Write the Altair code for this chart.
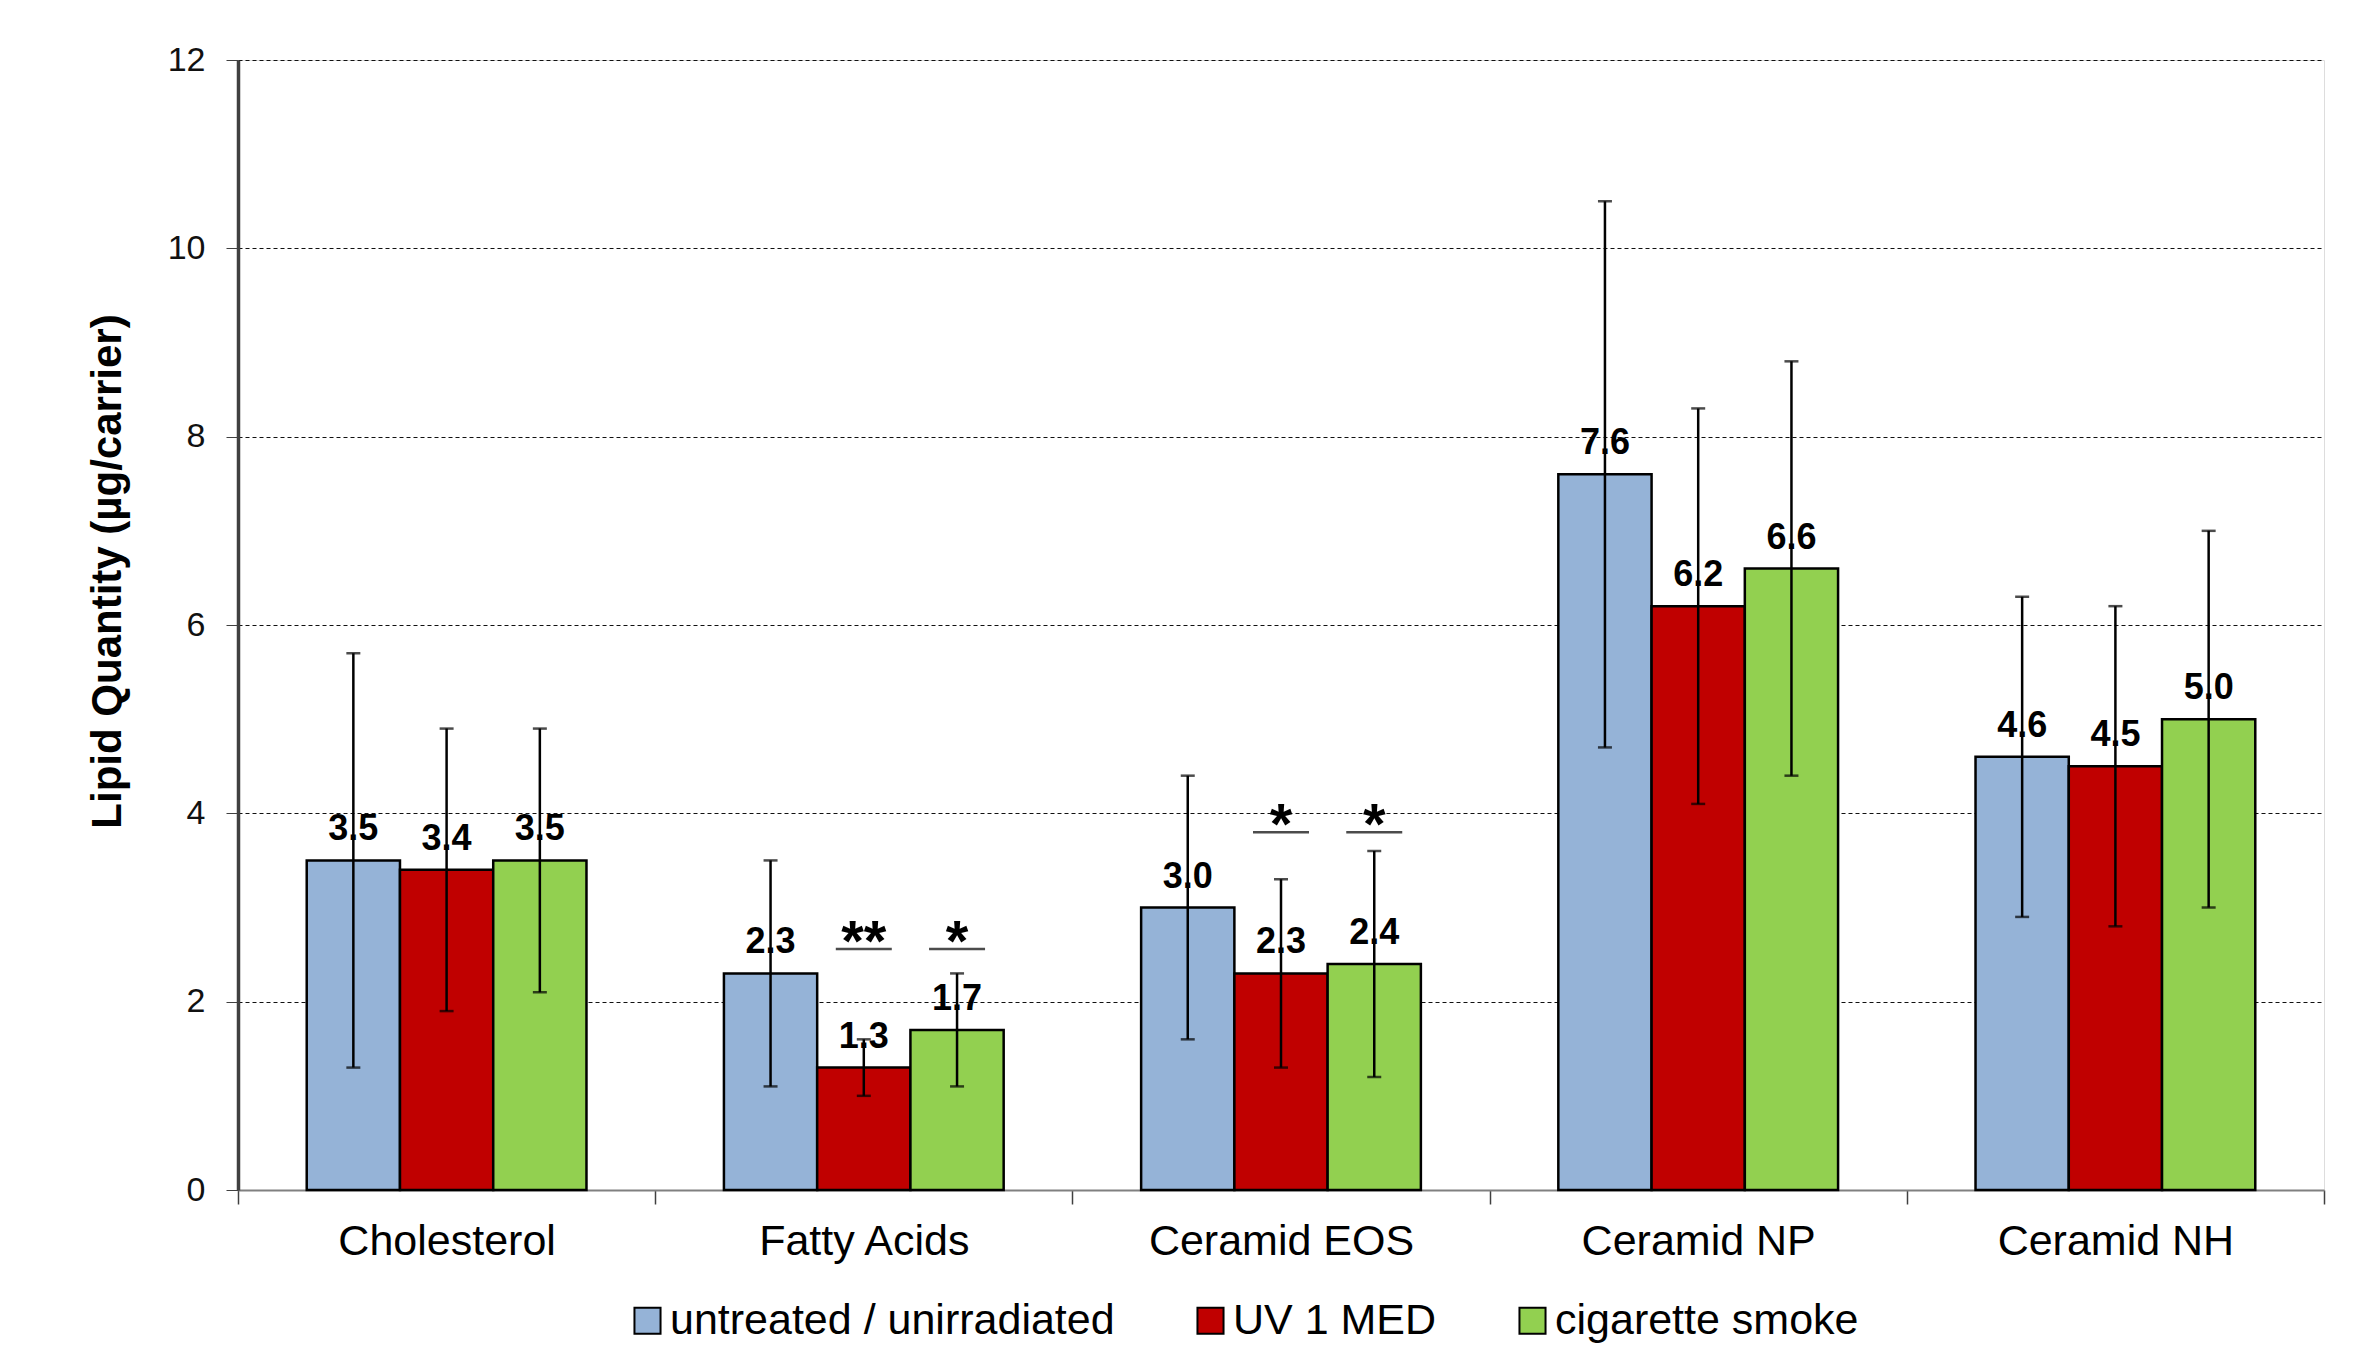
import altair as alt
import pandas as pd

categories = ["Cholesterol", "Fatty Acids", "Ceramid EOS", "Ceramid NP", "Ceramid NH"]
groups = ["untreated / unirradiated", "UV 1 MED", "cigarette smoke"]
colors = ["#95B3D7", "#C00000", "#92D050"]

untreated = [3.5, 2.3, 3.0, 7.6, 4.6]
untreated_lo = [1.3, 1.1, 1.6, 4.7, 2.9]
untreated_hi = [5.7, 3.5, 4.4, 10.5, 6.3]

uv = [3.4, 1.3, 2.3, 6.2, 4.5]
uv_lo = [1.9, 1.0, 1.3, 4.1, 2.8]
uv_hi = [4.9, 1.6, 3.3, 8.3, 6.2]

smoke = [3.5, 1.7, 2.4, 6.6, 5.0]
smoke_lo = [2.1, 1.1, 1.2, 4.4, 3.0]
smoke_hi = [4.9, 2.3, 3.6, 8.8, 7.0]

sig_category = ["Fatty Acids", "Fatty Acids", "Ceramid EOS", "Ceramid EOS"]
sig_group = ["UV 1 MED", "cigarette smoke", "UV 1 MED", "cigarette smoke"]
sig_level = [2.56, 2.56, 3.80, 3.80]
sig_mark = ["**", "*", "*", "*"]

rows = []
for g, vals, lo, hi in [
    (groups[0], untreated, untreated_lo, untreated_hi),
    (groups[1], uv, uv_lo, uv_hi),
    (groups[2], smoke, smoke_lo, smoke_hi),
]:
    for c, v, l, h in zip(categories, vals, lo, hi):
        rows.append({"category": c, "group": g, "value": v, "lo": l, "hi": h})
df = pd.DataFrame(rows)
sig_df = pd.DataFrame({"category": sig_category, "group": sig_group,
                       "level": sig_level, "mark": sig_mark})

FONT = "Liberation Sans"

x_enc = alt.X("category:N", sort=categories,
              scale=alt.Scale(domain=categories, paddingInner=0, paddingOuter=0),
              axis=alt.Axis(title=None, labelAngle=0, labelFontSize=43, labelFont=FONT,
                            labelColor="black", labelPadding=16, labelLimit=0,
                            tickBand="extent",
                            tickSize=14, tickColor="#404040", tickWidth=1.5,
                            domainColor="#808080", domainWidth=2, grid=False))
xo_enc = alt.XOffset("group:N", sort=groups,
                     scale=alt.Scale(domain=groups, paddingInner=0, paddingOuter=0.737))
y_scale = alt.Scale(domain=[0, 12], nice=False)

bars = alt.Chart(df).mark_bar(stroke="black", strokeWidth=2.5).encode(
    x=x_enc,
    xOffset=xo_enc,
    y=alt.Y("value:Q", scale=y_scale,
            axis=alt.Axis(values=[0, 2, 4, 6, 8, 10, 12], format="d",
                          title="Lipid Quantity (µg/carrier)",
                          titleFontSize=42, titleFont=FONT, titleFontWeight="bold",
                          titleColor="black", titleX=-131, titleY=511,
                          titleBaseline="middle", titleAlign="center", titleAngle=-90,
                          labelFontSize=34, labelFont=FONT, labelColor="#111",
                          labelPadding=21, tickSize=12, tickColor="#404040",
                          domainColor="#404040", domainWidth=3.5,
                          grid=True, gridColor="#111", gridDash=[4, 3], gridWidth=1)),
    color=alt.Color("group:N", sort=groups,
                    scale=alt.Scale(domain=groups, range=colors),
                    legend=alt.Legend(title=None, orient="none", legendX=388, legendY=1239,
                                      direction="horizontal", labelFontSize=43, labelFont=FONT,
                                      labelColor="black", labelLimit=0, symbolType="square",
                                      symbolSize=680, symbolStrokeColor="black",
                                      symbolStrokeWidth=2, symbolOpacity=1,
                                      columnPadding=74, labelOffset=1)),
)

err = alt.Chart(df).mark_rule(color="black", strokeWidth=2.5).encode(
    x=alt.X("category:N", sort=categories), xOffset=alt.XOffset("group:N", sort=groups),
    y="lo:Q", y2="hi:Q")

cap_lo = alt.Chart(df).mark_tick(color="black", size=14, thickness=2.5).encode(
    x=alt.X("category:N", sort=categories), xOffset=alt.XOffset("group:N", sort=groups),
    y="lo:Q")
cap_hi = alt.Chart(df).mark_tick(color="black", size=14, thickness=2.5).encode(
    x=alt.X("category:N", sort=categories), xOffset=alt.XOffset("group:N", sort=groups),
    y="hi:Q")

labels = alt.Chart(df).mark_text(fontSize=36, font=FONT, fontWeight="bold", color="black",
                                 baseline="alphabetic", dy=-20).encode(
    x=alt.X("category:N", sort=categories), xOffset=alt.XOffset("group:N", sort=groups),
    y="value:Q", text=alt.Text("value:Q", format=".1f"))

sig_line = alt.Chart(sig_df).mark_tick(color="black", size=56, thickness=2.5).encode(
    x=alt.X("category:N", sort=categories), xOffset=alt.XOffset("group:N", sort=groups),
    y="level:Q")
sig_text = alt.Chart(sig_df).mark_text(fontSize=58, font=FONT, fontWeight="bold",
                                       color="black", baseline="alphabetic", dy=12).encode(
    x=alt.X("category:N", sort=categories), xOffset=alt.XOffset("group:N", sort=groups),
    y="level:Q", text="mark:N")

chart = alt.layer(bars, err, cap_lo, cap_hi, labels, sig_line, sig_text).properties(
    width=2086, height=1130,
    autosize=alt.AutoSizeParams(type="none"),
    padding={"left": 230, "top": 52, "right": 26, "bottom": 158},
).configure_view(stroke="#808080", strokeWidth=2.5).configure(background="white")

chart.save("out.html", embed_options={"renderer": "svg", "actions": False})
